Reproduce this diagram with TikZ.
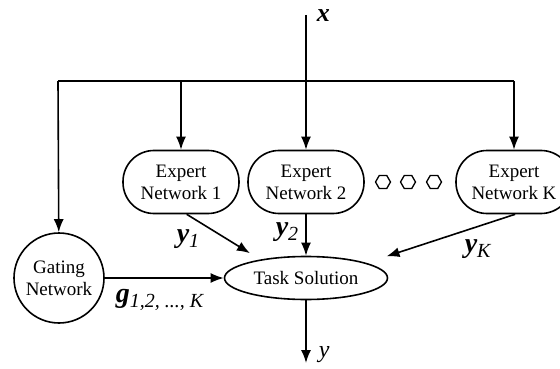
\documentclass[tikz,border=0pt]{standalone}
\usepackage{fontspec}
\setmainfont{Liberation Serif}
\usetikzlibrary{shapes, arrows.meta, positioning}

\newcommand{\idx}[1]{\raisebox{-5pt}{\fontsize{20}{20}\selectfont\mdseries\itshape #1}}

\tikzset{
  expert/.style={draw, rounded corners=31pt, minimum width=116pt, minimum height=63pt,
    align=center, font=\fontsize{19}{22}\selectfont},
  gate/.style={draw, circle, minimum size=90pt, inner sep=0pt, align=center,
    font=\fontsize{19}{22}\selectfont},
  task/.style={draw, ellipse, minimum width=163pt, minimum height=43pt, inner sep=0pt,
    font=\fontsize{19}{22}\selectfont},
  hexa/.style={draw, regular polygon, regular polygon sides=6, minimum size=15pt,
    inner sep=0pt, line width=1.3pt},
  lbl/.style={inner sep=0pt, anchor=base west, font=\fontsize{28}{30}\selectfont\bfseries\itshape}
}

\begin{document}
\begin{tikzpicture}[x=1pt, y=-1pt, line width=1.6pt, >={Latex[length=13pt,width=10pt]}]
  \useasboundingbox (0,0) rectangle (560,369);
  \node[expert] (e1) at (181,182) {Expert\\Network 1};
  \node[expert] (e2) at (306,182) {Expert\\Network 2};
  \node[expert] (ek) at (514,182) {Expert\\Network K};
  \node[gate] (gate) at (59,278) {Gating\\Network};
  \node[task] (task) at (306,278) {Task Solution};
  \foreach \i/\x in {1/383, 2/408, 3/434}
    \node[hexa] (h\i) at (\x,182) {};

  \coordinate (xin) at (306,15);
  \coordinate (busL) at (58,81);
  \coordinate (busR) at (514,81);
  \coordinate (yout) at (306,363);

  \node[lbl, font=\fontsize{26}{28}\selectfont\bfseries\itshape] (xlbl) at (316,22) {x};
  \node[lbl] (y1lbl) at (176,242) {y\idx{1}};
  \node[lbl] (y2lbl) at (275,235) {y\idx{2}};
  \node[lbl] (yklbl) at (464,252) {y\idx{K}};
  \node[lbl] (glbl) at (115,302) {g\idx{1,2, ..., K}};
  \node[lbl, font=\fontsize{24}{26}\selectfont\itshape] (ylbl) at (318,357) {y};

  \draw (busL) -- (busR);
  \draw[->] (xin) -- (e2);
  \draw[->] (busL) -- (gate);
  \draw[->] (e1 |- busL) -- (e1);
  \draw[->] (busR) -- (ek);
  \draw[->] (gate) -- (task);
  \draw[->, shorten >=12pt] (e1.-80) -- (task.158);
  \draw[->] (e2) -- (task);
  \draw[->, shorten >=21pt] (ek.-88) -- (task.14.5);
  \draw[->] (task) -- (yout);
\end{tikzpicture}
\end{document}
